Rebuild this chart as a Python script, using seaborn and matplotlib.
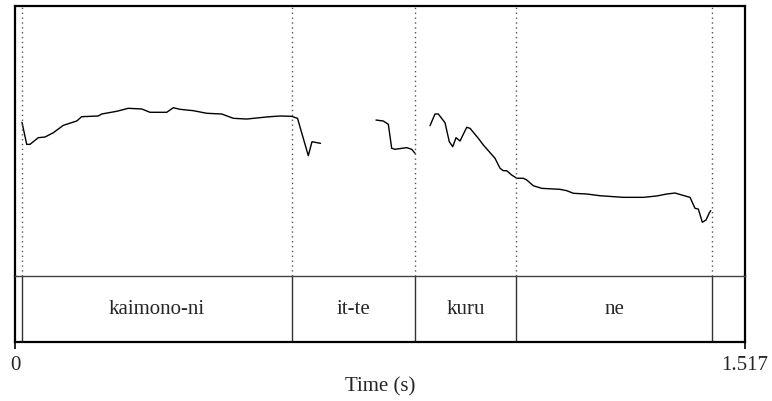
import numpy as np
import pandas as pd
import matplotlib
matplotlib.use("Agg")
import matplotlib.pyplot as plt
import seaborn as sns

sns.set_theme(style="white")
plt.rcParams['font.family'] = ['Liberation Serif', 'DejaVu Serif']

# ---- data ----
t_end = 1.517
boundaries = [0.0145, 0.575, 0.831, 1.042, 1.448]
labels = ["kaimono-ni", "it-te", "kuru", "ne"]

seg1_t = [0.0145, 0.0243, 0.0312, 0.0484, 0.0623, 0.0796, 0.1004, 0.1282, 0.1386, 0.1731,
          0.1802, 0.2113, 0.2354, 0.2633, 0.2805, 0.3153, 0.3290, 0.3429, 0.3705, 0.3984,
          0.4296, 0.4537, 0.4815, 0.5231, 0.5507, 0.5750, 0.5871, 0.6095, 0.6172, 0.6349]
seg1_f = [270.8, 246.3, 246.3, 253.7, 254.4, 259.2, 267.4, 272.2, 277.0, 277.8,
          280.0, 283.0, 286.3, 285.6, 281.9, 281.9, 287.0, 285.2, 283.7, 280.8,
          280.0, 275.2, 274.4, 276.7, 277.8, 277.4, 275.2, 233.7, 249.2, 247.4]

seg2_t = [0.7502, 0.7654, 0.7758, 0.7828, 0.7897, 0.8140, 0.8244, 0.8313]
seg2_f = [273.3, 272.2, 268.6, 241.9, 240.8, 242.6, 240.8, 236.3]

seg3_t = [0.8624, 0.8728, 0.8797, 0.8936, 0.9025, 0.9096, 0.9165, 0.9248, 0.9387, 0.9456,
          0.9628, 0.9732, 0.9975, 1.0079, 1.0148, 1.0218, 1.0322, 1.0426, 1.0563, 1.0634,
          1.0771, 1.0946, 1.1326, 1.1465, 1.1602, 1.1881, 1.2157, 1.2641, 1.3057, 1.3335,
          1.3543, 1.3716, 1.3855, 1.4028, 1.4131, 1.4200, 1.4283, 1.4360, 1.4429, 1.4459]
seg3_f = [267.0, 280.0, 280.0, 270.3, 249.2, 243.7, 253.7, 250.0, 265.2, 264.1,
          253.0, 245.6, 230.8, 219.7, 217.0, 217.0, 212.2, 208.6, 208.6, 206.7,
          200.3, 197.4, 196.3, 194.8, 191.9, 191.1, 189.2, 187.4, 187.4, 188.9,
          191.1, 192.2, 190.0, 187.4, 175.2, 174.4, 159.7, 162.2, 170.3, 172.6]

df = pd.concat([
    pd.DataFrame({"t": seg1_t, "f": seg1_f, "seg": 1}),
    pd.DataFrame({"t": seg2_t, "f": seg2_f, "seg": 2}),
    pd.DataFrame({"t": seg3_t, "f": seg3_f, "seg": 3}),
])

W, H = 772, 401
fig = plt.figure(figsize=(W / 100, H / 100), dpi=100)
L, R, T, M, B = 15, 745, 6, 276, 342
ax2 = fig.add_axes([L / W, 1 - B / H, (R - L) / W, (B - M) / H])
ax = fig.add_axes([L / W, 1 - M / H, (R - L) / W, (M - T) / H])
ax.patch.set_alpha(0)
ax2.patch.set_alpha(0)

sns.lineplot(data=df, x="t", y="f", units="seg", estimator=None, sort=False,
             color="black", linewidth=1.0, ax=ax)
ax.set_xlim(0, t_end)
ax.set_ylim(100, 400)
for b in boundaries:
    ax.axvline(b, color="#555555", linestyle=(0, (1, 2.5)), linewidth=1.0)
ax.set_xticks([]); ax.set_yticks([])
ax.set_xlabel(""); ax.set_ylabel("")
for s in ["left", "top", "right"]:
    ax.spines[s].set_color("black"); ax.spines[s].set_linewidth(1.6)
ax.spines["bottom"].set_color("#444444"); ax.spines["bottom"].set_linewidth(1.0)
ax.spines["bottom"].set_zorder(5)

ax2.set_xlim(0, t_end)
ax2.set_ylim(0, 1)
for b in boundaries:
    ax2.axvline(b, color="#333333", linewidth=1.0)
edges = boundaries
for i, lab in enumerate(labels):
    ax2.text((edges[i] + edges[i + 1]) / 2, 0.5, lab, ha="center", va="center", fontsize=15)
ax2.set_yticks([])
ax2.set_xticks([0, t_end])
ax2.set_xticklabels(["0", "1.517"], fontsize=15)
ax2.tick_params(axis="x", direction="out", length=5, width=1.2, color="black", pad=5, bottom=True)
ax2.set_xlabel("Time (s)", fontsize=15, labelpad=2)
for s in ["left", "right", "bottom"]:
    ax2.spines[s].set_color("black"); ax2.spines[s].set_linewidth(1.6)
ax2.spines["top"].set_visible(False)

fig.savefig("out.png", dpi=100)
